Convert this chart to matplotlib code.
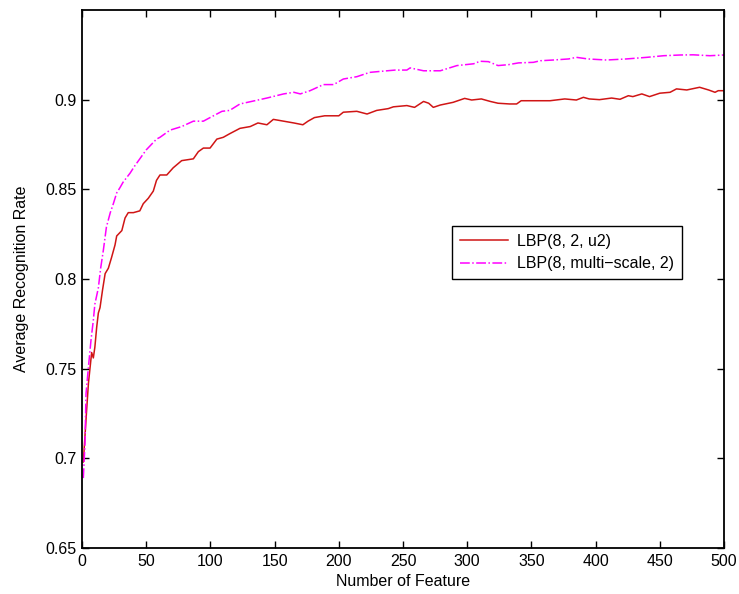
import numpy as np
import matplotlib
matplotlib.use('Agg')
import matplotlib.pyplot as plt

# values
x_u2 = [1, 3.6, 5, 7.5, 8.8, 10, 11.4, 12.7, 14, 16, 18, 20.5, 23, 25.7, 27, 31, 33.5, 36, 40, 45,
        47.7, 51.6, 55.5, 58, 60.7, 66, 71, 77.6, 86.7, 90.6, 94.5, 99.7, 105, 110, 115, 123, 131,
        137, 144, 149, 157, 165, 172, 176, 181, 189, 200, 203.5, 214, 222, 229.5, 238.5, 242.5,
        253, 259, 266, 270, 273.6, 279, 289, 298, 303.5, 311, 318, 324, 333, 338.5, 342, 354,
        364.5, 376, 385, 390.5, 395, 403, 412.5, 419, 425.5, 429, 436, 442, 450, 458, 463, 471,
        481, 488, 493, 495.5, 500]
y_u2 = [0.698, 0.727, 0.742, 0.759, 0.756, 0.762, 0.773, 0.781, 0.784, 0.794, 0.803, 0.806, 0.812,
        0.819, 0.824, 0.827, 0.834, 0.837, 0.837, 0.838, 0.842, 0.845, 0.849, 0.855, 0.858, 0.858,
        0.862, 0.866, 0.867, 0.871, 0.873, 0.873, 0.878, 0.879, 0.881, 0.884, 0.885, 0.887, 0.886,
        0.889, 0.888, 0.887, 0.886, 0.888, 0.890, 0.891, 0.891, 0.893, 0.8935, 0.892, 0.894, 0.895,
        0.896, 0.8967, 0.8957, 0.899, 0.898, 0.8957, 0.897, 0.8985, 0.9007, 0.8998, 0.9004, 0.899,
        0.898, 0.8976, 0.8976, 0.8994, 0.8994, 0.8994, 0.9004, 0.8998, 0.9013, 0.9004, 0.900,
        0.9009, 0.9002, 0.9022, 0.9017, 0.9032, 0.9017, 0.9036, 0.9041, 0.906, 0.9054, 0.9069,
        0.9054, 0.9041, 0.905, 0.905]

x_ms = [1, 2.3, 3.1, 5, 7, 8.8, 10, 12.7, 14.5, 16.6, 19, 22, 24.4, 27, 29.6, 32, 37.4, 41, 45,
        50, 58, 60.7, 68.5, 77.6, 86.7, 94.5, 99.7, 109, 115, 123, 132, 144, 157, 165, 170, 177.6,
        188, 196, 203.5, 214, 224, 233, 244, 253, 255.5, 266, 279, 292, 305, 310, 316.5, 324, 332,
        340, 351.5, 357, 367, 379, 385, 394, 408.5, 424, 440, 453, 466, 476, 489, 500]
y_ms = [0.689, 0.708, 0.736, 0.751, 0.766, 0.777, 0.786, 0.795, 0.806, 0.816, 0.829, 0.837, 0.842,
        0.848, 0.851, 0.854, 0.859, 0.863, 0.867, 0.872, 0.878, 0.879, 0.883, 0.885, 0.888, 0.888,
        0.890, 0.8935, 0.894, 0.8976, 0.899, 0.9009, 0.9032, 0.9041, 0.9032, 0.905, 0.9084, 0.9084,
        0.9115, 0.9128, 0.9152, 0.9158, 0.9165, 0.9165, 0.9177, 0.9161, 0.9161, 0.919, 0.920,
        0.9214, 0.9212, 0.919, 0.9195, 0.9205, 0.9208, 0.9217, 0.9221, 0.9227, 0.9236, 0.9227,
        0.9221, 0.9227, 0.9236, 0.9245, 0.9249, 0.925, 0.9245, 0.9249]

labels = ['LBP(8, 2, u2)', 'LBP(8, multi\u2212scale, 2)']
xticks = [0, 50, 100, 150, 200, 250, 300, 350, 400, 450, 500]
yticks = [0.65, 0.7, 0.75, 0.8, 0.85, 0.9]

plt.rcParams['font.family'] = ['Liberation Sans', 'DejaVu Sans']
fs = 11.5

fig = plt.figure(figsize=(7.39, 5.94), dpi=100)
ax = fig.add_axes([0.111, 0.0774, 0.8687, 0.9058])

ax.plot(x_u2, y_u2, color='#d01515', lw=1.1, label=labels[0])
ax.plot(x_ms, y_ms, color='#ff00ff', lw=1.1, ls='-.', label=labels[1])

ax.set_xlim(0, 500)
ax.set_ylim(0.65, 0.95)
ax.set_xticks(xticks)
ax.set_xticklabels([str(t) for t in xticks])
ax.set_yticks(yticks)
ax.set_yticklabels(['0.65', '0.7', '0.75', '0.8', '0.85', '0.9'])
ax.tick_params(direction='in', top=True, right=True, length=5, width=1, pad=4, labelsize=fs)
for s in ax.spines.values():
    s.set_linewidth(1.3)

ax.set_xlabel('Number of Feature', fontsize=fs, labelpad=4)
ax.set_ylabel('Average Recognition Rate', fontsize=fs, labelpad=12)

leg = ax.legend(loc='upper left', bbox_to_anchor=(0.576, 0.5985), handlelength=3.0,
                fancybox=False, framealpha=1, edgecolor='black', borderaxespad=0,
                fontsize=fs, borderpad=0.5, labelspacing=0.45, handletextpad=0.6)
leg.get_frame().set_linewidth(1.0)

plt.savefig('out.png', dpi=100)
